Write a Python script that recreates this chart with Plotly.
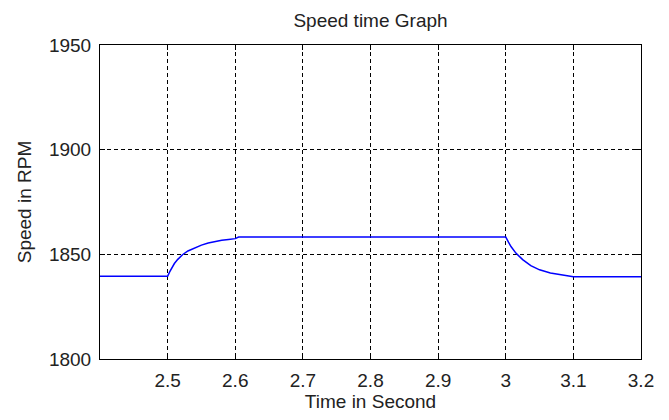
import plotly.graph_objects as go

time_s = [2.40, 2.50, 2.503, 2.506, 2.510, 2.515, 2.522, 2.530, 2.540, 2.550, 2.560, 2.570,
          2.580, 2.590, 2.600, 2.605, 2.700, 2.800, 2.900, 3.000, 3.004, 3.008, 3.015,
          3.025, 3.037, 3.050, 3.066, 3.080, 3.095, 3.100, 3.200]
speed_rpm = [1839.5, 1839.5, 1841.6, 1843.5, 1845.6, 1847.6, 1849.8, 1851.6, 1853.2, 1854.4,
             1855.4, 1856.1, 1856.7, 1857.1, 1857.5, 1858.3, 1858.3, 1858.3, 1858.3, 1858.3,
             1855.8, 1853.6, 1850.6, 1847.5, 1844.6, 1842.6, 1841.1, 1840.3, 1839.8, 1839.3,
             1839.3]

x_ticks = [2.5, 2.6, 2.7, 2.8, 2.9, 3.0, 3.1, 3.2]
x_labels = ["2.5", "2.6", "2.7", "2.8", "2.9", "3", "3.1", "3.2"]
y_ticks = [1800, 1850, 1900, 1950]

FONT = "Liberation Sans, Arial, sans-serif"

fig = go.Figure()
fig.add_trace(go.Scatter(x=time_s, y=speed_rpm, mode="lines",
                         line=dict(color="#0000ff", width=1.5),
                         showlegend=False))

axis_common = dict(
    showline=True, linecolor="black", linewidth=1, mirror="allticks",
    ticks="inside", ticklen=5, tickcolor="black", tickwidth=1,
    showgrid=True, gridcolor="black", gridwidth=1, griddash="4px,3px",
    zeroline=False, tickfont=dict(family=FONT, size=19, color="#222222"),
)

fig.update_layout(
    width=669, height=420,
    margin=dict(l=100, r=28, t=45, b=57),
    paper_bgcolor="white", plot_bgcolor="white",
    title=dict(text="Speed time Graph", x=0.5, xanchor="center", xref="paper",
               y=1 - 20 / 420, yanchor="middle",
               font=dict(family=FONT, size=19, color="#222222")),
    xaxis=dict(range=[2.4, 3.2], tickvals=x_ticks, ticktext=x_labels,
               title=dict(text="Time in Second", standoff=4,
                          font=dict(family=FONT, size=19, color="#222222")),
               ticklabelstandoff=4, **axis_common),
    yaxis=dict(range=[1800, 1950], tickvals=y_ticks,
               title=dict(text="Speed in RPM", standoff=12,
                          font=dict(family=FONT, size=19, color="#222222")),
               ticklabelstandoff=4, **axis_common),
)

fig.write_html("out.html")
